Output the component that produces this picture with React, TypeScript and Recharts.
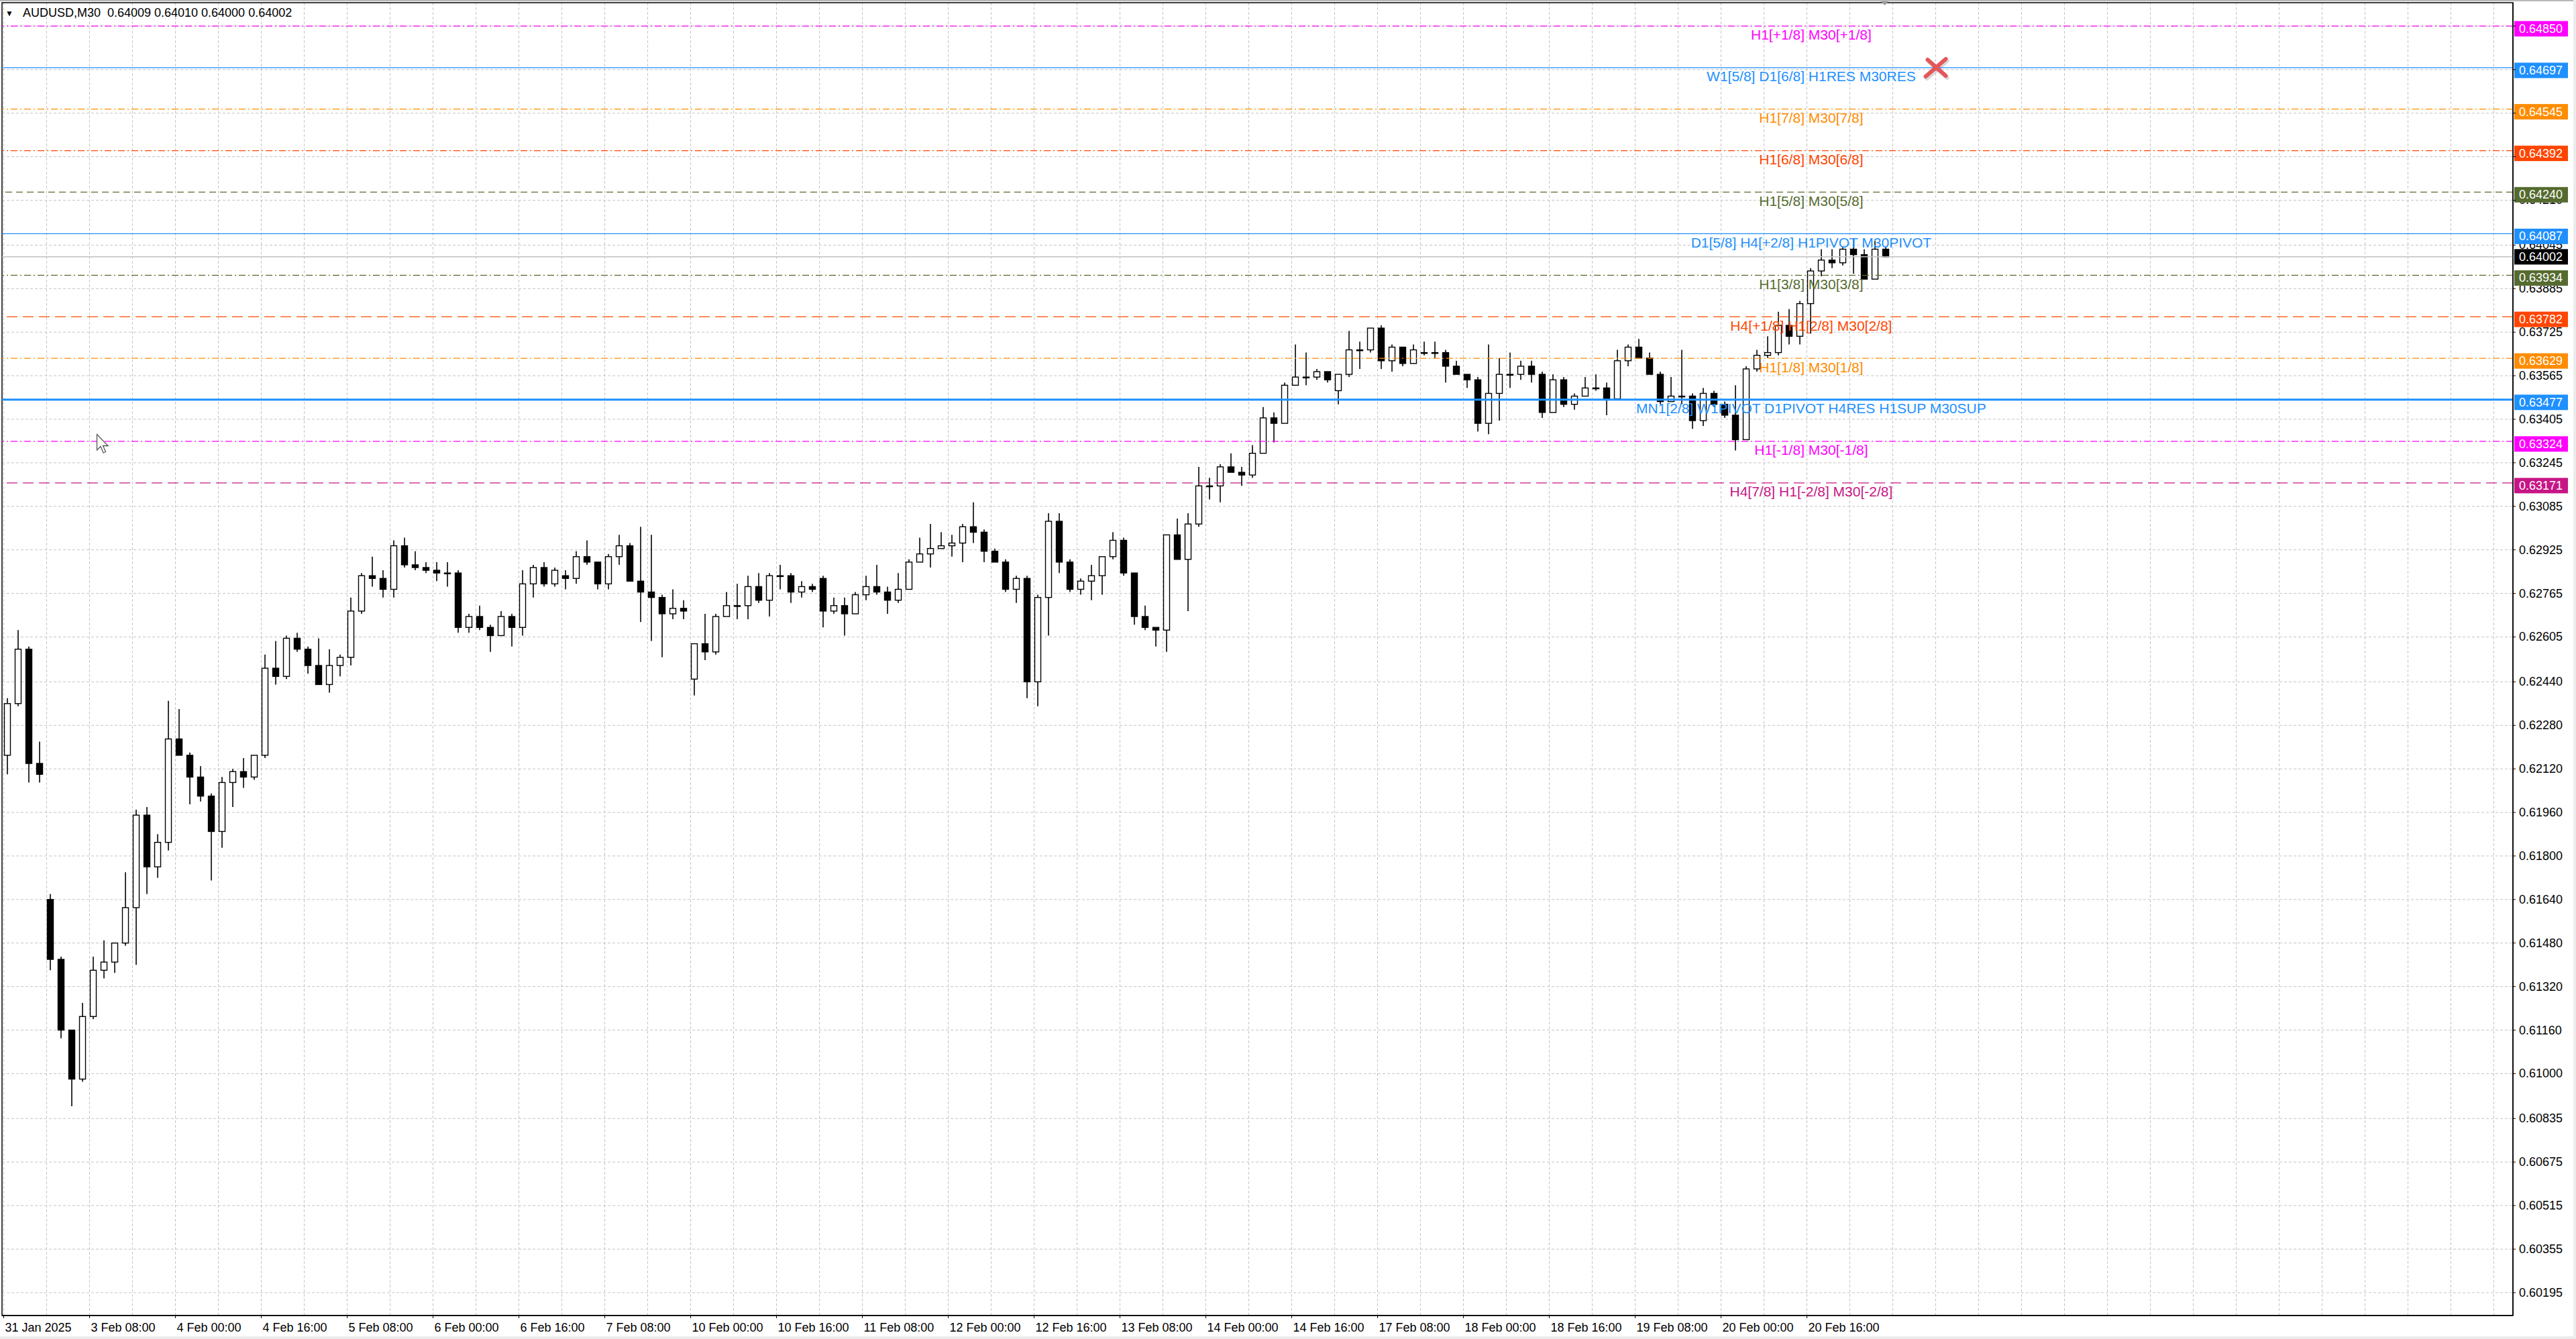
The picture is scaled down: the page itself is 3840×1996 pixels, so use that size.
import React from 'react';
import {
  ComposedChart,
  Bar,
  XAxis,
  YAxis,
  CartesianGrid,
  ReferenceLine,
  ReferenceDot,
  ReferenceArea,
} from 'recharts';

const FONT = '"Liberation Sans", Arial, sans-serif';

const OPEN = [
  0.6217, 0.6236, 0.6256, 0.6214, 0.6164, 0.6142, 0.6116, 0.6098,
  0.6121, 0.6138, 0.6141, 0.6148, 0.6161, 0.6195, 0.6176, 0.6185,
  0.6223, 0.6217, 0.6209, 0.6202, 0.6189, 0.6207, 0.6211, 0.6209,
  0.6217, 0.6249, 0.6246, 0.626, 0.6256, 0.625, 0.6243, 0.625,
  0.6253, 0.627, 0.6283, 0.6282, 0.6278, 0.6294, 0.6287, 0.6286,
  0.6285, 0.6284, 0.6284, 0.6264, 0.6268, 0.6264, 0.6261, 0.6268,
  0.6264, 0.628, 0.6286, 0.628, 0.6283, 0.6282, 0.629, 0.6288,
  0.628, 0.629, 0.6294, 0.6281, 0.6277, 0.6275, 0.6269, 0.6271,
  0.6245, 0.6258, 0.6255, 0.6268, 0.6272, 0.6272, 0.6279, 0.6274,
  0.6283, 0.6283, 0.6277, 0.6279, 0.6282, 0.627, 0.6272, 0.6269,
  0.6276, 0.6279, 0.6277, 0.6274, 0.6278, 0.6288, 0.6291, 0.6293,
  0.6294, 0.6295, 0.6301, 0.6299, 0.6292, 0.6288, 0.6278, 0.6282,
  0.6244, 0.6275, 0.6303, 0.6288, 0.6278, 0.6281, 0.6283, 0.629,
  0.6296, 0.6284, 0.6268, 0.6264, 0.6263, 0.6298, 0.6289, 0.6302,
  0.6316, 0.6316, 0.6323, 0.6321, 0.632, 0.6328, 0.6341, 0.6339,
  0.6353, 0.6356, 0.6356, 0.6358, 0.6351, 0.6357, 0.6366, 0.6366,
  0.6374, 0.6362, 0.6367, 0.6361, 0.6365, 0.6365, 0.6365, 0.636,
  0.6357, 0.6355, 0.6339, 0.635, 0.6357, 0.6357, 0.636, 0.6357,
  0.6343, 0.6355, 0.6346, 0.6349, 0.6352, 0.6352, 0.6348, 0.6362,
  0.6367, 0.6363, 0.6357, 0.6347, 0.6349, 0.6349, 0.634, 0.635,
  0.6346, 0.6342, 0.6333, 0.6359, 0.6364, 0.6365, 0.6375, 0.6371,
  0.6383, 0.6395, 0.6399, 0.6398, 0.6403, 0.6401, 0.6392, 0.6403,
];
const HIGH = [
  0.6238, 0.6263, 0.6257, 0.6222, 0.6166, 0.6143, 0.6116, 0.6126,
  0.6143, 0.6149, 0.6148, 0.6174, 0.6197, 0.6198, 0.6188, 0.6237,
  0.6234, 0.6218, 0.6213, 0.6203, 0.6209, 0.6212, 0.6216, 0.6217,
  0.6254, 0.6259, 0.6261, 0.6262, 0.6257, 0.626, 0.6256, 0.6254,
  0.6275, 0.6284, 0.629, 0.6285, 0.6296, 0.6297, 0.6292, 0.6288,
  0.6288, 0.6288, 0.6285, 0.6269, 0.6272, 0.6265, 0.627, 0.6269,
  0.6285, 0.6287, 0.6288, 0.6286, 0.6285, 0.6292, 0.6296, 0.6288,
  0.6291, 0.6298, 0.6295, 0.6301, 0.6298, 0.6276, 0.6278, 0.6274,
  0.6258, 0.6269, 0.6269, 0.6277, 0.628, 0.6283, 0.6284, 0.6284,
  0.6287, 0.6284, 0.6281, 0.628, 0.6283, 0.6275, 0.6275, 0.6277,
  0.6283, 0.6287, 0.6279, 0.6284, 0.6289, 0.6297, 0.6302, 0.6299,
  0.6298, 0.6302, 0.631, 0.63, 0.6293, 0.6289, 0.6283, 0.6283,
  0.6276, 0.6306, 0.6306, 0.6289, 0.6282, 0.6287, 0.629, 0.6299,
  0.6297, 0.6284, 0.6272, 0.6264, 0.6298, 0.6304, 0.6306, 0.6323,
  0.6319, 0.6324, 0.6328, 0.6323, 0.6331, 0.6345, 0.6343, 0.6354,
  0.6368, 0.6365, 0.6359, 0.6358, 0.6357, 0.6373, 0.6369, 0.6374,
  0.6375, 0.6368, 0.6367, 0.6368, 0.6369, 0.6369, 0.6366, 0.6362,
  0.6357, 0.6356, 0.6368, 0.6363, 0.6365, 0.6362, 0.6362, 0.6358,
  0.6357, 0.6356, 0.635, 0.6356, 0.6357, 0.6354, 0.6366, 0.6368,
  0.637, 0.6365, 0.6358, 0.6356, 0.6366, 0.635, 0.6352, 0.6351,
  0.6347, 0.6353, 0.636, 0.6366, 0.6371, 0.638, 0.6381, 0.6384,
  0.6396, 0.6403, 0.6403, 0.6404, 0.6407, 0.6403, 0.6406, 0.6404,
];
const LOW = [
  0.621, 0.6235, 0.6207, 0.6207, 0.6138, 0.6113, 0.6088, 0.6097,
  0.612, 0.6135, 0.6137, 0.6147, 0.614, 0.6166, 0.6172, 0.6182,
  0.6217, 0.6199, 0.62, 0.6171, 0.6183, 0.6198, 0.6205, 0.6208,
  0.6216, 0.6243, 0.6245, 0.6255, 0.6247, 0.6243, 0.624, 0.6246,
  0.625, 0.6269, 0.6279, 0.6275, 0.6275, 0.6286, 0.6285, 0.6284,
  0.6281, 0.6279, 0.6262, 0.6262, 0.6263, 0.6255, 0.6261, 0.6257,
  0.6261, 0.6275, 0.6279, 0.6279, 0.6278, 0.628, 0.6287, 0.6278,
  0.6278, 0.6287, 0.6281, 0.6266, 0.6259, 0.6253, 0.6267, 0.6267,
  0.6239, 0.6252, 0.6254, 0.6268, 0.6267, 0.6267, 0.6273, 0.6268,
  0.6278, 0.6273, 0.6275, 0.6277, 0.6264, 0.6269, 0.6261, 0.6269,
  0.6274, 0.6276, 0.6269, 0.6273, 0.6278, 0.6288, 0.6286, 0.6293,
  0.629, 0.6288, 0.6295, 0.6288, 0.6288, 0.6277, 0.6273, 0.6238,
  0.6235, 0.6261, 0.6284, 0.6277, 0.6276, 0.6274, 0.6276, 0.6289,
  0.6283, 0.6265, 0.6263, 0.6257, 0.6255, 0.6289, 0.627, 0.6301,
  0.6311, 0.631, 0.6321, 0.6316, 0.6319, 0.6328, 0.6332, 0.6339,
  0.6353, 0.6353, 0.6355, 0.6354, 0.6346, 0.6356, 0.6359, 0.6365,
  0.6359, 0.6358, 0.636, 0.6361, 0.6364, 0.6363, 0.6354, 0.6357,
  0.6352, 0.6336, 0.6335, 0.634, 0.6352, 0.6355, 0.6354, 0.6341,
  0.6343, 0.6345, 0.6344, 0.6349, 0.6351, 0.6342, 0.6348, 0.636,
  0.6363, 0.6357, 0.6346, 0.6347, 0.6346, 0.6337, 0.6338, 0.6345,
  0.6341, 0.6329, 0.6333, 0.6358, 0.6363, 0.6364, 0.6368, 0.6368,
  0.6372, 0.6393, 0.6396, 0.6397, 0.6394, 0.6392, 0.6392, 0.64,
];
const CLOSE = [
  0.6236, 0.6256, 0.6214, 0.621, 0.6142, 0.6116, 0.6098, 0.6121,
  0.6138, 0.6141, 0.6148, 0.6161, 0.6195, 0.6176, 0.6185, 0.6223,
  0.6217, 0.6209, 0.6202, 0.6189, 0.6207, 0.6211, 0.6209, 0.6217,
  0.6249, 0.6246, 0.626, 0.6256, 0.625, 0.6243, 0.625, 0.6253,
  0.627, 0.6283, 0.6282, 0.6278, 0.6294, 0.6287, 0.6286, 0.6285,
  0.6284, 0.6284, 0.6264, 0.6268, 0.6264, 0.6261, 0.6268, 0.6264,
  0.628, 0.6286, 0.628, 0.6285, 0.6282, 0.629, 0.6288, 0.628,
  0.629, 0.6294, 0.6281, 0.6277, 0.6275, 0.6269, 0.6271, 0.627,
  0.6258, 0.6255, 0.6268, 0.6272, 0.6272, 0.6279, 0.6274, 0.6283,
  0.6283, 0.6277, 0.6279, 0.6278, 0.627, 0.6272, 0.6269, 0.6276,
  0.6279, 0.6277, 0.6274, 0.6278, 0.6288, 0.6291, 0.6293, 0.6294,
  0.6295, 0.6301, 0.6299, 0.6292, 0.6288, 0.6278, 0.6282, 0.6244,
  0.6275, 0.6303, 0.6288, 0.6278, 0.6281, 0.6283, 0.629, 0.6296,
  0.6284, 0.6268, 0.6264, 0.6263, 0.6298, 0.6289, 0.6302, 0.6316,
  0.6316, 0.6323, 0.6321, 0.632, 0.6328, 0.6341, 0.6339, 0.6353,
  0.6356, 0.6356, 0.6358, 0.6355, 0.6357, 0.6366, 0.6366, 0.6374,
  0.6362, 0.6367, 0.6361, 0.6366, 0.6365, 0.6365, 0.636, 0.6357,
  0.6355, 0.6339, 0.635, 0.6357, 0.6357, 0.636, 0.6357, 0.6343,
  0.6355, 0.6346, 0.6349, 0.6352, 0.6352, 0.6348, 0.6362, 0.6367,
  0.6363, 0.6357, 0.6347, 0.6349, 0.6349, 0.634, 0.635, 0.6346,
  0.6342, 0.6333, 0.6359, 0.6364, 0.6365, 0.6375, 0.6371, 0.6383,
  0.6395, 0.6399, 0.6398, 0.6403, 0.6401, 0.6392, 0.6403, 0.64002,
];

const TIME_LABELS = [
  '31 Jan 2025', '3 Feb 08:00', '4 Feb 00:00', '4 Feb 16:00', '5 Feb 08:00',
  '6 Feb 00:00', '6 Feb 16:00', '7 Feb 08:00', '10 Feb 00:00', '10 Feb 16:00',
  '11 Feb 08:00', '12 Feb 00:00', '12 Feb 16:00', '13 Feb 08:00', '14 Feb 00:00',
  '14 Feb 16:00', '17 Feb 08:00', '18 Feb 00:00', '18 Feb 16:00', '19 Feb 08:00',
  '20 Feb 00:00', '20 Feb 16:00',
];

const PRICE_TICKS = [
  0.6485, 0.6469, 0.6453, 0.6437, 0.6421, 0.64045, 0.63885, 0.63725, 0.63565,
  0.63405, 0.63245, 0.63085, 0.62925, 0.62765, 0.62605, 0.6244, 0.6228, 0.6212,
  0.6196, 0.618, 0.6164, 0.6148, 0.6132, 0.6116, 0.61, 0.60835, 0.60675,
  0.60515, 0.60355, 0.60195,
];

const LEVEL_PRICES = [
  0.6485, 0.64697, 0.64545, 0.64392, 0.6424, 0.64087,
  0.63934, 0.63782, 0.63629, 0.63477, 0.63324, 0.63171,
];
const LEVEL_NAMES = [
  'H1[+1/8] M30[+1/8]',
  'W1[5/8] D1[6/8] H1RES M30RES',
  'H1[7/8] M30[7/8]',
  'H1[6/8] M30[6/8]',
  'H1[5/8] M30[5/8]',
  'D1[5/8] H4[+2/8] H1PIVOT M30PIVOT',
  'H1[3/8] M30[3/8]',
  'H4[+1/8] H1[2/8] M30[2/8]',
  'H1[1/8] M30[1/8]',
  'MN1[2/8] W1PIVOT D1PIVOT H4RES H1SUP M30SUP',
  'H1[-1/8] M30[-1/8]',
  'H4[7/8] H1[-2/8] M30[-2/8]',
];

const SYMBOL = 'AUDUSD,M30';
const LAST_BAR = [0.64009, 0.6401, 0.64, 0.64002];
const LAST_PRICE = 0.64002;

// styles for the levels, same order as LEVEL_PRICES
const MAGENTA = '#FF00FF';
const BLUE = '#1E90FF';
const ORANGE = '#FF8C00';
const ORANGERED = '#FF4500';
const OLIVE = '#556B2F';
const VIOLET = '#C71585';
const DASHDOT = '10 4 2 4';
const LEVEL_STYLE = [
  { color: MAGENTA, dash: DASHDOT, width: 1.2 },
  { color: BLUE, dash: undefined, width: 1.3 },
  { color: ORANGE, dash: DASHDOT, width: 1.2 },
  { color: ORANGERED, dash: DASHDOT, width: 1.2 },
  { color: OLIVE, dash: '10 6', width: 1.2 },
  { color: BLUE, dash: undefined, width: 1.3 },
  { color: OLIVE, dash: DASHDOT, width: 1.2 },
  { color: ORANGERED, dash: '16 8', width: 1.3 },
  { color: ORANGE, dash: DASHDOT, width: 1.2 },
  { color: BLUE, dash: undefined, width: 3 },
  { color: MAGENTA, dash: DASHDOT, width: 1.2 },
  { color: VIOLET, dash: '16 8', width: 1.3 },
];

const LABEL_BAR = 673.6; // level captions sit around 20 Feb 17:00
const CROSS_BAR = 720;
const SHIFT_BAR = 701;

const CHART_W = 3840;
const CHART_H = 1996;
const MARGIN = { top: 4, right: 0, bottom: 0, left: 3 };
const X_AXIS_H = 35;
const Y_AXIS_W = 94;
const PLOT_H = CHART_H - MARGIN.top - X_AXIS_H;
const BOX_H = 23;
const LEVEL_BOX_SHIFT = 4;

const X_DOMAIN: [number, number] = [-0.625, 935.125];
const Y_DOMAIN: [number, number] = [0.60111, 0.64936];
const PX_PER_PRICE = PLOT_H / (Y_DOMAIN[1] - Y_DOMAIN[0]);
const TIME_TICKS = TIME_LABELS.map((_, i) => i * 32);
const GRID_X = Array.from({ length: 59 }, (_, i) => i * 16);
const BOXES = [
  ...LEVEL_PRICES.map((p) => ({ p, shift: LEVEL_BOX_SHIFT })),
  { p: LAST_PRICE, shift: 0 },
];

const DATA = OPEN.map((o, i) => ({
  b: i * 4 + 1.5,
  open: o,
  high: HIGH[i],
  low: LOW[i],
  close: CLOSE[i],
  range: [LOW[i], HIGH[i]],
}));

function Candle(props: any) {
  const { x, y, width, height, payload } = props;
  if (!payload || height == null || isNaN(y)) return null;
  const top = height < 0 ? y + height : y;
  const h = Math.abs(height);
  const { open, close, high, low } = payload;
  const span = high - low;
  const toY = (v: number) => (span > 0 ? top + ((high - v) / span) * h : top);
  const cx = x + width / 2;
  const bTop = toY(Math.max(open, close));
  const bBot = toY(Math.min(open, close));
  const bull = close >= open;
  return (
    <g>
      <line x1={cx} x2={cx} y1={top} y2={top + h} stroke="#000" strokeWidth={1.6} />
      <rect
        x={x}
        y={bTop}
        width={width}
        height={Math.max(bBot - bTop, 1.2)}
        fill={bull ? '#fff' : '#000'}
        stroke="#000"
        strokeWidth={1.4}
      />
    </g>
  );
}

// price label; the part that sits under a coloured level box is clipped away
function PriceTick(props: any) {
  const { x, y, payload } = props;
  const v = payload.value;
  let clipTop = y - 14;
  let clipBot = y + 14;
  for (const b of BOXES) {
    const c = y + (v - b.p) * PX_PER_PRICE + b.shift;
    const bt = c - BOX_H / 2;
    const bb = c + BOX_H / 2;
    if (bb > clipTop && bt < clipBot) {
      if (c <= y) clipTop = Math.max(clipTop, bb);
      else clipBot = Math.min(clipBot, bt);
    }
  }
  if (clipBot - clipTop < 1) return null;
  const id = `ptick-${String(v).replace('.', '_')}`;
  return (
    <g>
      <clipPath id={id}>
        <rect x={x - 2} y={clipTop} width={90} height={clipBot - clipTop} />
      </clipPath>
      <text
        x={x}
        y={y}
        fill="#000"
        fontSize={18}
        fontFamily={FONT}
        dominantBaseline="central"
        clipPath={`url(#${id})`}
      >
        {Number(v).toFixed(5)}
      </text>
    </g>
  );
}

const priceBox = (price: number, color: string, shift: number) => (props: any) => {
  const vb = props.viewBox;
  if (!vb) return null;
  const bx = vb.x + vb.width + 2;
  const cy = vb.y + shift;
  return (
    <g>
      <rect x={bx} y={cy - BOX_H / 2} width={80} height={BOX_H} fill={color} />
      <text x={bx + 7} y={cy} fill="#fff" fontSize={18} fontFamily={FONT} dominantBaseline="central">
        {price.toFixed(5)}
      </text>
    </g>
  );
};

function TimeTick(props: any) {
  const { x, y, payload } = props;
  const idx = TIME_TICKS.indexOf(payload.value);
  return (
    <text x={x + 2} y={y + 12} fill="#000" fontSize={18} fontFamily={FONT} dominantBaseline="central">
      {TIME_LABELS[idx]}
    </text>
  );
}

const levelText = (name: string, color: string) => (props: any) => (
  <text
    x={props.cx}
    y={props.cy + 13}
    fill={color}
    fontSize={21}
    fontFamily={FONT}
    textAnchor="middle"
    dominantBaseline="central"
  >
    {name}
  </text>
);

const Cross = (props: any) => {
  const { cx, cy } = props;
  return (
    <g strokeLinecap="round" strokeWidth={6}>
      <g stroke="#000" strokeOpacity={0.15} transform="translate(2,3)">
        <line x1={cx - 15} y1={cy + 13} x2={cx + 15} y2={cy - 13} />
        <line x1={cx - 12} y1={cy - 12} x2={cx + 15} y2={cy + 12} />
      </g>
      <line x1={cx - 15} y1={cy + 13} x2={cx + 15} y2={cy - 13} stroke="#E5565A" />
      <line x1={cx - 12} y1={cy - 12} x2={cx + 15} y2={cy + 12} stroke="#E5565A" />
    </g>
  );
};

const ShiftMark = (props: any) => {
  const { cx, cy } = props;
  return <polygon points={`${cx - 8},${cy - 4} ${cx + 8},${cy - 4} ${cx},${cy + 4}`} fill="#9a9a9a" />;
};

export default function App() {
  return (
    <div style={{ position: 'relative', width: CHART_W, height: CHART_H, background: '#fff', overflow: 'hidden' }}>
      <style>{'body{margin:0}'}</style>
      <ComposedChart width={CHART_W} height={CHART_H} data={DATA} margin={MARGIN}>
        <CartesianGrid
          stroke="#c4c4c4"
          strokeDasharray="4 3"
          horizontalValues={PRICE_TICKS}
          verticalValues={GRID_X}
        />
        <XAxis
          dataKey="b"
          type="number"
          domain={X_DOMAIN}
          allowDataOverflow
          ticks={TIME_TICKS}
          interval={0}
          height={X_AXIS_H}
          tickSize={4}
          tickMargin={2}
          axisLine={{ stroke: '#000', strokeWidth: 1.5 }}
          tickLine={{ stroke: '#000' }}
          tick={TimeTick}
        />
        <YAxis
          orientation="right"
          type="number"
          domain={Y_DOMAIN}
          allowDataOverflow
          ticks={PRICE_TICKS}
          interval={0}
          width={Y_AXIS_W}
          tickSize={4}
          tickMargin={5}
          axisLine={{ stroke: '#000', strokeWidth: 1.5 }}
          tickLine={{ stroke: '#000' }}
          tick={PriceTick}
        />
        <ReferenceArea
          x1={X_DOMAIN[0]}
          x2={X_DOMAIN[1]}
          y1={Y_DOMAIN[0]}
          y2={Y_DOMAIN[1]}
          fill="none"
          fillOpacity={0}
          stroke="#000"
          strokeWidth={1.5}
        />
        {LEVEL_PRICES.map((p, i) => (
          <ReferenceLine
            key={`lvl-${p}`}
            y={p}
            stroke={LEVEL_STYLE[i].color}
            strokeWidth={LEVEL_STYLE[i].width}
            strokeDasharray={LEVEL_STYLE[i].dash}
            label={priceBox(p, LEVEL_STYLE[i].color, LEVEL_BOX_SHIFT)}
          />
        ))}
        <ReferenceLine
          y={LAST_PRICE}
          stroke="#c0c0c0"
          strokeWidth={1.5}
          label={priceBox(LAST_PRICE, '#000', 0)}
        />
        {LEVEL_PRICES.map((p, i) => (
          <ReferenceDot
            key={`txt-${p}`}
            x={LABEL_BAR}
            y={p}
            r={0}
            shape={levelText(LEVEL_NAMES[i], LEVEL_STYLE[i].color)}
          />
        ))}
        <Bar dataKey="range" barSize={9} shape={(p: any) => <Candle {...p} />} isAnimationActive={false} />
        <ReferenceDot x={CROSS_BAR} y={LEVEL_PRICES[1]} r={0} shape={Cross} />
        <ReferenceDot x={SHIFT_BAR} y={Y_DOMAIN[1]} r={0} shape={ShiftMark} />
      </ComposedChart>

      <div style={{ position: 'absolute', left: 0, top: 0, width: CHART_W, height: 2, background: '#b8b8b8' }} />
      <div style={{ position: 'absolute', left: 3836, top: 0, width: 4, height: CHART_H, background: '#ececec' }} />
      <div style={{ position: 'absolute', left: 0, top: 1992, width: CHART_W, height: 4, background: '#ececec' }} />

      {/* mouse pointer left on the chart */}
      <svg style={{ position: 'absolute', left: 143, top: 646 }} width={24} height={34}>
        <path d="M1.5 1.5 L1.5 25 L7 19.5 L11 29 L14.5 27.5 L10.5 18.5 L18 18.5 Z" fill="#fff" stroke="#555" strokeWidth={1.3} />
      </svg>

      <div
        style={{
          position: 'absolute',
          left: 8,
          top: 8,
          fontFamily: FONT,
          fontSize: 18,
          lineHeight: '22px',
          whiteSpace: 'pre',
          color: '#000',
        }}
      >
        <span style={{ fontSize: 12, verticalAlign: 'top', position: 'relative', top: 1 }}>▼</span>
        {`   ${SYMBOL}  ${LAST_BAR.map((v) => v.toFixed(5)).join(' ')}`}
      </div>
    </div>
  );
}
